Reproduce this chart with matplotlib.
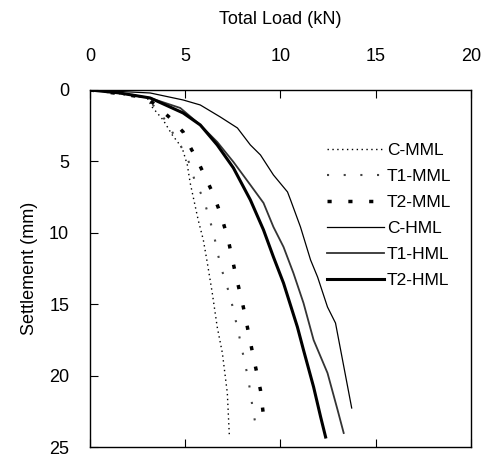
import matplotlib
matplotlib.use("Agg")
import matplotlib.pyplot as plt

plt.rcParams['font.family'] = ['Liberation Sans', 'DejaVu Sans']

# Total load (kN) and settlement (mm) for each test series
c_mml_load = [0, 1.5, 3.0, 3.26, 3.84, 4.32, 4.84, 5.11, 5.26, 5.68, 5.95, 6.16, 6.42, 6.68, 6.95, 7.21, 7.32]
c_mml_set = [0, 0.25, 0.55, 1.19, 2.10, 3.15, 4.06, 5.25, 6.51, 9.10, 10.50, 12.11, 14.22, 16.60, 18.42, 21.22, 24.30]

t1_mml_load = [0, 1.5, 3.0, 3.95, 4.47, 4.89, 5.26, 5.53, 5.95, 6.47, 6.84, 7.37, 7.79, 8.32, 8.58, 8.74]
t1_mml_set = [0, 0.25, 0.55, 2.10, 3.29, 4.20, 5.25, 6.51, 7.56, 9.94, 12.25, 14.50, 16.95, 20.31, 22.62, 23.74]

t2_mml_load = [0, 1.5, 3.0, 4.21, 4.89, 5.26, 5.68, 6.05, 6.42, 6.74, 7.00, 7.26, 7.63, 8.05, 8.58, 8.95, 9.16]
t2_mml_set = [0, 0.25, 0.55, 1.96, 2.94, 3.99, 5.04, 6.09, 7.14, 8.26, 9.31, 10.50, 12.82, 15.20, 18.70, 21.01, 23.39]

c_hml_load = [0, 1.5, 3.16, 4.89, 5.79, 6.84, 7.74, 8.42, 8.95, 9.63, 10.37, 10.53, 11.05, 11.58, 11.95, 12.47, 12.89, 13.26, 13.53, 13.74]
c_hml_set = [0, 0.1, 0.21, 0.70, 1.05, 1.89, 2.66, 3.85, 4.55, 5.95, 7.14, 7.70, 9.59, 11.90, 13.10, 15.20, 16.32, 18.91, 20.80, 22.27]

t1_hml_load = [0, 1.5, 3.16, 4.74, 5.79, 6.68, 7.53, 8.42, 9.11, 9.63, 10.16, 10.68, 11.21, 11.74, 12.47, 13.00, 13.32]
t1_hml_set = [0, 0.2, 0.56, 1.26, 2.45, 3.64, 5.04, 6.65, 7.91, 9.59, 10.99, 12.82, 14.92, 17.51, 19.82, 22.41, 24.02]

t2_hml_load = [0, 1.5, 3.16, 4.89, 5.79, 6.68, 7.53, 8.42, 9.11, 9.63, 10.16, 10.89, 11.21, 11.74, 12.11, 12.37]
t2_hml_set = [0, 0.2, 0.56, 1.61, 2.45, 3.85, 5.46, 7.70, 9.80, 11.69, 13.52, 16.60, 18.21, 20.80, 22.90, 24.30]

labels = ['C-MML', 'T1-MML', 'T2-MML', 'C-HML', 'T1-HML', 'T2-HML']
x_ticks = [0, 5, 10, 15, 20]
y_ticks = [0, 5, 10, 15, 20, 25]

fig = plt.figure(figsize=(4.87, 4.65), dpi=100)
ax = fig.add_axes([0.1848, 0.0387, 0.967 - 0.1848, 0.8065 - 0.0387])

ax.plot(c_mml_load, c_mml_set, color='black', lw=1.0, linestyle=(0, (1, 2.5)), label=labels[0])
ax.plot(t1_mml_load, t1_mml_set, color='#444444', lw=1.5, linestyle=(0, (1, 7)), label=labels[1])
ax.plot(t2_mml_load, t2_mml_set, color='black', lw=2.5, linestyle=(0, (1.2, 4.8)), label=labels[2])
ax.plot(c_hml_load, c_hml_set, color='black', lw=0.9, label=labels[3])
ax.plot(t1_hml_load, t1_hml_set, color='#333333', lw=1.3, label=labels[4])
ax.plot(t2_hml_load, t2_hml_set, color='black', lw=2.2, label=labels[5])

ax.set_xlim(0, 20)
ax.set_ylim(25, 0)
ax.set_xticks(x_ticks)
ax.set_yticks(y_ticks)
ax.xaxis.set_ticks_position('both')
ax.xaxis.set_label_position('top')
ax.tick_params(axis='x', which='both', direction='in', length=6, top=True, bottom=True,
               labeltop=True, labelbottom=False, labelsize=13, pad=18)
ax.tick_params(axis='y', which='both', direction='in', length=6, left=True, right=False,
               labelsize=13, pad=15)
ax.set_xlabel('Total Load (kN)', fontsize=13, labelpad=17)
ax.set_ylabel('Settlement (mm)', fontsize=13, labelpad=8)
for s in ax.spines.values():
    s.set_linewidth(1.0)

leg = ax.legend(loc='upper right', bbox_to_anchor=(0.98, 0.885), frameon=False, fontsize=12.5,
                handlelength=3.3, handletextpad=0.15, labelspacing=0.62, borderaxespad=0.3)

fig.savefig('out.png', dpi=100)
